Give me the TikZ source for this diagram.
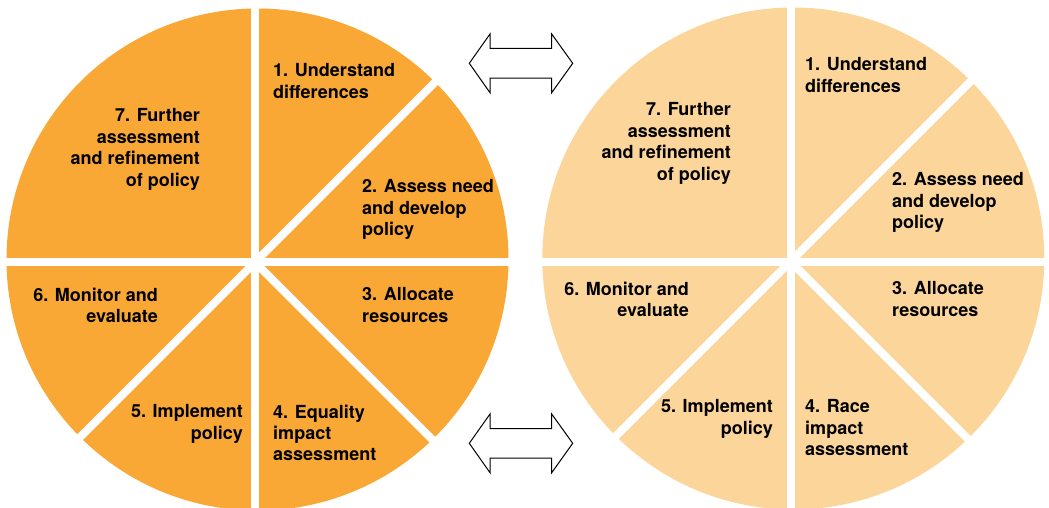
\documentclass[tikz,border=0pt]{standalone}
\usepackage{fontspec}
\setmainfont{TeX Gyre Heros}
\definecolor{deeporange}{RGB}{249,168,54}
\definecolor{paleorange}{RGB}{252,213,154}

\begin{document}
\begin{tikzpicture}[x=1pt,y=-1pt,
  stagetext/.style={font=\fontsize{18}{21.4}\selectfont\bfseries, inner sep=0pt, text=black},
  lft/.style={stagetext, align=left, anchor=north west},
  rgt/.style={stagetext, align=right, anchor=north east},
  gapline/.style={white, line width=8pt},
  swaparrow/.style={draw=black, line width=1pt, fill=white, line join=miter}]
\useasboundingbox (0,0) rectangle (1049,508);

% wheel: a filled disc cut into seven stages by white spokes
\newcommand{\stagewheel}[3]{%
  \fill[#3] (#1) circle (251pt);
  \begin{scope}
    \clip (#1) circle (253pt);
    \draw[gapline] (#2) -- ++(0,-300);
    \draw[gapline] (#2) -- ++(0,300);
    \draw[gapline] (#2) -- ++(300,0);
    \draw[gapline] (#2) -- ++(-300,0);
    \draw[gapline] (#2) -- ++(300,-300);
    \draw[gapline] (#2) -- ++(300,300);
    \draw[gapline] (#2) -- ++(-300,300);
  \end{scope}}

% left wheel
\coordinate (lc) at (257.5,259.5);
\coordinate (lhub) at (255,262.3);
\stagewheel{lc}{lhub}{deeporange}

% right wheel
\coordinate (rc) at (793.3,258.5);
\coordinate (rhub) at (790.5,261.5);
\stagewheel{rc}{rhub}{paleorange}

% left wheel labels
\node[lft] (l1) at (273,63.5) {1. Understand\\differences};
\node[lft] (l2) at (362,179.5) {2. Assess need\\and develop\\policy};
\node[lft] (l3) at (362,287.5) {3. Allocate\\resources};
\node[lft] (l4) at (273,404.5) {4. Equality\\impact\\assessment};
\node[rgt] (l5) at (243,404.5) {5. Implement\\policy};
\node[rgt] (l6) at (158,287.5) {6. Monitor and\\evaluate};
\node[rgt] (l7) at (200,108.5) {7. Further\\assessment\\and refinement\\of policy};

% right wheel labels
\node[lft] (r1) at (805,57.5) {1. Understand\\differences};
\node[lft] (r2) at (892,172.5) {2. Assess need\\and develop\\policy};
\node[lft] (r3) at (892,281.5) {3. Allocate\\resources};
\node[lft] (r4) at (805,399.5) {4. Race\\impact\\assessment};
\node[rgt] (r5) at (773,399.5) {5. Implement\\policy};
\node[rgt] (r6) at (689,281.5) {6. Monitor and\\evaluate};
\node[rgt] (r7) at (731,102.5) {7. Further\\assessment\\and refinement\\of policy};

% outline double arrows between the wheels
\newcommand{\twoway}[1]{%
  \draw[swaparrow] (#1) ++(-51.7,0) -- ++(20.7,-29.3) -- ++(0,14.5) -- ++(61.7,0)
    -- ++(0,-14.5) -- ++(21,29.3) -- ++(-21,29.4) -- ++(0,-14.5) -- ++(-61.7,0)
    -- ++(0,14.5) -- cycle;}
\coordinate (topswap) at (521,63.3);
\coordinate (botswap) at (521,443.3);
\twoway{topswap}
\twoway{botswap}
\end{tikzpicture}
\end{document}
